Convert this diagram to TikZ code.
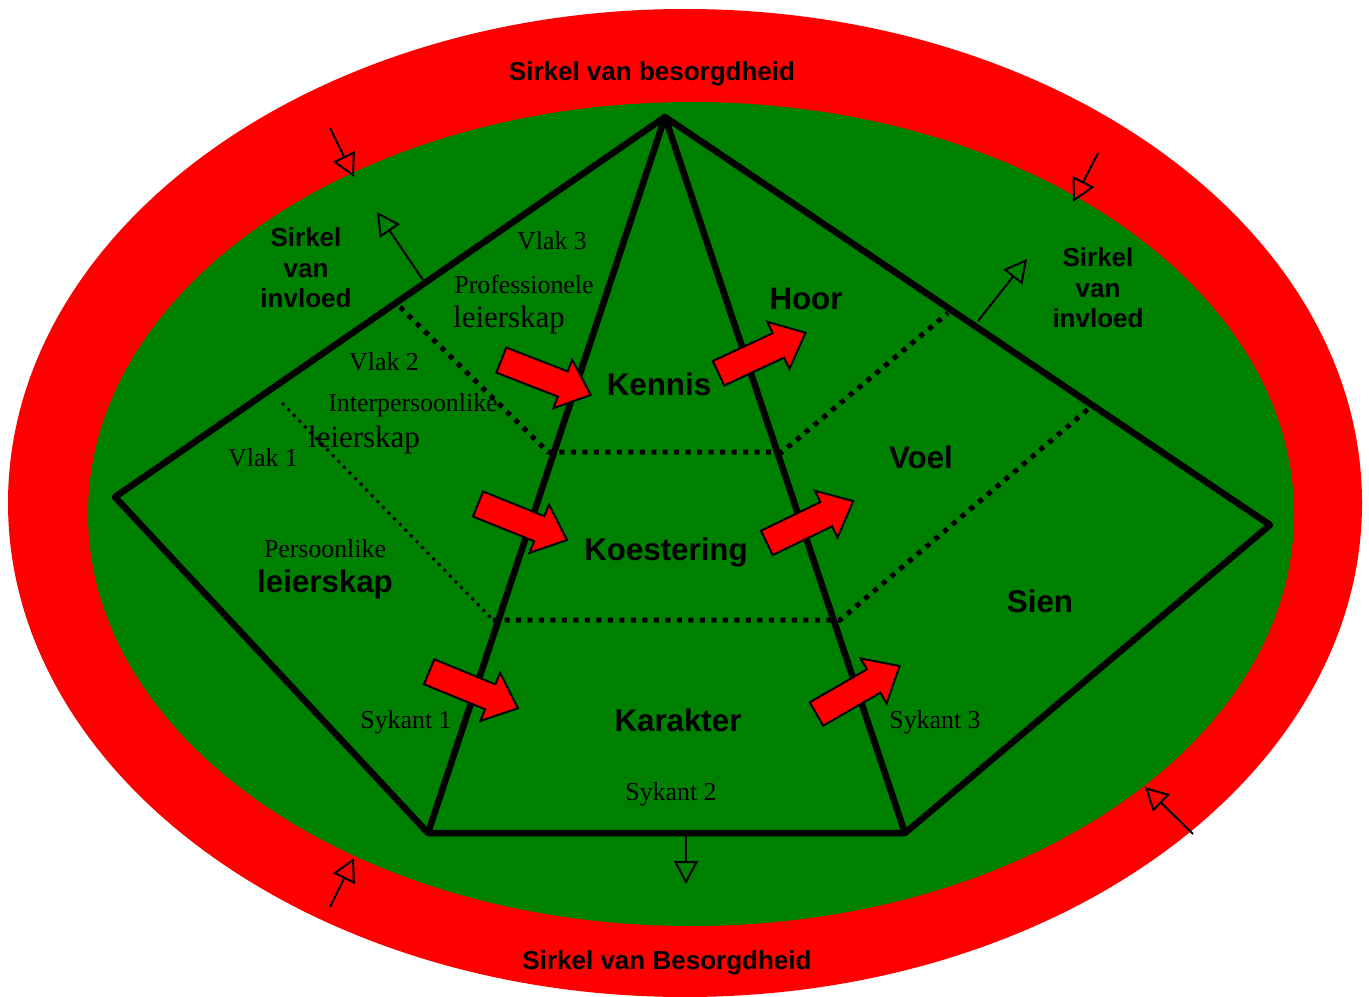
\documentclass[tikz,border=0pt]{standalone}
\usepackage{fontspec}
\setmainfont{Liberation Serif}
\setsansfont{Liberation Sans}
\usetikzlibrary{arrows.meta}
\definecolor{ringred}{HTML}{FF0000}
\definecolor{fieldgreen}{HTML}{008000}

\tikzset{
  blockarrow/.pic={
    \draw[line width=0.4mm,fill=ringred,line join=miter]
      (-48,-13.5) -- (18,-13.5) -- (18,-26) -- (48,0) -- (18,26) -- (18,13.5) -- (-48,13.5) -- cycle;
  }
}

\begin{document}
\begin{tikzpicture}[x=0.02cm,y=-0.02cm,
    inner sep=0pt,
    edge/.style={line width=1.3mm,line join=round},
    split/.style={line width=1mm,dash pattern=on 1mm off 1.3mm},
    thinsplit/.style={line width=0.6mm,dash pattern=on 0.6mm off 1mm},
    pointer/.style={line width=0.4mm,-{Triangle[open,length=4.6mm,width=4.8mm]}},
    ringtxt/.style={font=\sffamily\bfseries\fontsize{14.8}{17.4}\selectfont,align=center},
    facet/.style={font=\sffamily\bfseries\fontsize{17.8}{20}\selectfont},
    plain/.style={font=\fontsize{14.7}{17}\selectfont},
    plainbig/.style={font=\fontsize{17.6}{20}\selectfont}]
  \useasboundingbox (0,0) rectangle (1369,997);

  % circles
  \fill[ringred] (685,503) ellipse [x radius=677,y radius=494];
  \fill[fieldgreen] (691,514) ellipse [x radius=603,y radius=412];

  % pyramid corners
  \coordinate (apex) at (665,117);
  \coordinate (west) at (115,497);
  \coordinate (east) at (1270,525);
  \coordinate (bl) at (428,833);
  \coordinate (br) at (905,833);

  \draw[edge] (west) -- (apex) -- (east) -- (br) -- (bl) -- cycle;
  \draw[edge] (apex) -- (bl);
  \draw[edge] (apex) -- (br);

  % planes
  \coordinate (s1) at (400,307);
  \coordinate (s2) at (548,452);
  \coordinate (s3) at (782,452);
  \coordinate (s4) at (948,313);
  \coordinate (t1) at (282,403);
  \coordinate (t2) at (493,620);
  \coordinate (t3) at (840,620);
  \coordinate (t4) at (1093,405);
  \draw[split] (s1) -- (s2) -- (s3) -- (s4);
  \draw[thinsplit] (t1) -- (t2);
  \draw[split] (t2) -- (t3) -- (t4);

  % red arrows
  \pic[rotate=-21.3] at (546,377.5) {blockarrow};
  \pic[rotate=-22] at (522.5,522) {blockarrow};
  \pic[rotate=-22.3] at (473.5,690) {blockarrow};
  \pic[rotate=25] at (762,353) {blockarrow};
  \pic[rotate=25.8] at (810,522) {blockarrow};
  \pic[rotate=30] at (858,690) {blockarrow};

  % influence pointers
  \coordinate (p1a) at (330,128);  \coordinate (p1b) at (354,177);
  \coordinate (p2a) at (423,280);  \coordinate (p2b) at (377,212);
  \coordinate (p3a) at (1098,153); \coordinate (p3b) at (1073,202);
  \coordinate (p4a) at (978,321);  \coordinate (p4b) at (1027,259);
  \coordinate (p5a) at (686,836);  \coordinate (p5b) at (686,884);
  \coordinate (p6a) at (330,907);  \coordinate (p6b) at (354,858);
  \coordinate (p7a) at (1193,834); \coordinate (p7b) at (1145,787);
  \foreach \p in {1,...,7}
    \draw[pointer] (p\p a) -- (p\p b);

  % labels
  \node[ringtxt] (zorgtop) at (652,74) {Sirkel van besorgdheid};
  \node[ringtxt] (zorgbot) at (667,963) {Sirkel van Besorgdheid};
  \node[ringtxt] (invloedl) at (306,268) {Sirkel\\van\\invloed};
  \node[ringtxt] (invloedr) at (1098,288) {Sirkel\\van\\invloed};

  \node[plain] (vlak3) at (552,241) {Vlak 3};
  \node[plain] (prof) at (524,285) {Professionele};
  \node[plainbig] (prof2) at (509,320) {leierskap};
  \node[plain] (vlak2) at (384,362) {Vlak 2};
  \node[plain] (inter) at (413,405) {Interpersoonlike};
  \node[plainbig] (inter2) at (364,440) {leierskap};
  \node[plain] (vlak1) at (263,458) {Vlak 1};
  \node[plain] (pers) at (325,549) {Persoonlike};
  \node[facet] (pers2) at (325,584) {leierskap};

  \node[facet] (kennis) at (659,384) {Kennis};
  \node[facet] (koes) at (666,552) {Koestering};
  \node[facet] (karakter) at (678,720) {Karakter};
  \node[facet] (hoor) at (806,299) {Hoor};
  \node[facet] (voel) at (921,457) {Voel};
  \node[facet] (sien) at (1040,601) {Sien};

  \node[plain] (sykant1) at (406,722) {Sykant 1};
  \node[plain] (sykant2) at (671,794) {Sykant 2};
  \node[plain] (sykant3) at (935,722) {Sykant 3};
\end{tikzpicture}
\end{document}
